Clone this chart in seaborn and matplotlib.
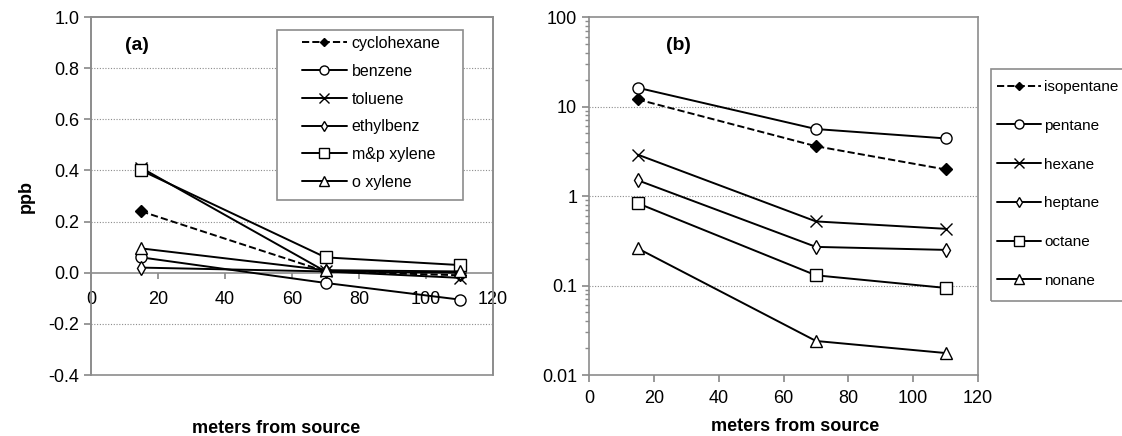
import numpy as np
import pandas as pd
import seaborn as sns
import matplotlib.pyplot as plt
from matplotlib.lines import Line2D
from matplotlib.patches import Rectangle
import matplotlib.ticker as mticker

# distances (m)
dist = [15, 70, 110]

# panel (a) aromatics + cyclohexane, ppb
names_a = ["cyclohexane", "benzene", "toluene", "ethylbenz", "m&p xylene", "o xylene"]
cyclohexane = [0.24, 0.005, -0.01]
benzene = [0.06, -0.04, -0.105]
toluene = [0.41, 0.005, -0.02]
ethylbenz = [0.02, 0.005, 0.0]
mp_xylene = [0.40, 0.06, 0.03]
o_xylene = [0.095, 0.01, 0.005]

# panel (b) alkanes, ppb (log scale)
names_b = ["isopentane", "pentane", "hexane", "heptane", "octane", "nonane"]
isopentane = [12.0, 3.6, 1.98]
pentane = [16.2, 5.6, 4.4]
hexane = [2.9, 0.52, 0.43]
heptane = [1.5, 0.27, 0.25]
octane = [0.83, 0.13, 0.094]
nonane = [0.26, 0.024, 0.0176]

vals_a = [cyclohexane, benzene, toluene, ethylbenz, mp_xylene, o_xylene]
vals_b = [isopentane, pentane, hexane, heptane, octane, nonane]

# marker style per series position (same order in both panels)
styles = [
    dict(marker="D", ls="--", mfc="black", ms=6),
    dict(marker="o", ls="-", mfc="white", ms=8),
    dict(marker="x", ls="-", mfc="none", ms=8),
    dict(marker="d", ls="-", mfc="white", ms=7),
    dict(marker="s", ls="-", mfc="white", ms=8),
    dict(marker="^", ls="-", mfc="white", ms=8),
]

sns.set_theme(style="white")
plt.rcParams["font.family"] = ["Liberation Sans", "DejaVu Sans"]
plt.rcParams["text.color"] = "black"
plt.rcParams["axes.labelcolor"] = "black"
plt.rcParams["xtick.color"] = "black"
plt.rcParams["ytick.color"] = "black"

fig = plt.figure(figsize=(11.22, 4.36), dpi=100)
ax1 = fig.add_axes([0.0811, 0.1399, 0.3583, 0.8211])
ax2 = fig.add_axes([0.5250, 0.1399, 0.3467, 0.8211])

gray = "#8c8c8c"


def draw(ax, names, vals):
    handles = []
    for name, v, st in zip(names, vals, styles):
        df = pd.DataFrame({"x": dist, "y": v})
        sns.lineplot(data=df, x="x", y="y", ax=ax, color="black", lw=1.4,
                     linestyle=st["ls"], marker=st["marker"], markersize=st["ms"],
                     markerfacecolor=st["mfc"], markeredgecolor="black",
                     markeredgewidth=1.0, zorder=3)
        handles.append(Line2D([], [], color="black", lw=1.4, linestyle=st["ls"],
                              marker=st["marker"], markersize=st["ms"] - 1.5,
                              markerfacecolor=st["mfc"], markeredgecolor="black",
                              label=name))
    return handles


# ---- panel (a)
h1 = draw(ax1, names_a, vals_a)
ax1.set_xlim(0, 120)
ax1.set_ylim(-0.4, 1.0)
ax1.set_yticks(np.arange(-0.4, 1.01, 0.2))
ax1.yaxis.set_major_formatter(mticker.FormatStrFormatter("%.1f"))
ax1.set_xticks(range(0, 121, 20))
for y in [-0.2, 0.2, 0.4, 0.6, 0.8]:
    ax1.axhline(y, color=gray, lw=0.8, ls=(0, (1, 1.5)), zorder=1)
ax1.spines["bottom"].set_position(("data", 0))
for s in ax1.spines.values():
    s.set_color(gray)
    s.set_linewidth(1.2)
ax1.add_patch(Rectangle((0, 0), 1, 1, transform=ax1.transAxes, fill=False,
                        edgecolor=gray, lw=1.2, zorder=0, clip_on=False))
ax1.tick_params(axis="x", direction="out", length=4, color=gray, pad=9,
                labelsize=13, bottom=True)
ax1.tick_params(axis="y", direction="out", length=5, color=gray, labelsize=13, left=True)
ax1.set_xlabel("")
ax1.set_ylabel("ppb", fontsize=13, fontweight="bold", labelpad=10)
fig.text(0.246, 0.018, "meters from source", ha="center", va="center",
         fontsize=13, fontweight="bold")
ax1.text(0.114, 0.92, "(a)", transform=ax1.transAxes, fontsize=14,
         fontweight="bold", ha="center", va="center")
# legend box drawn as a wide frame, like the spreadsheet original
ax1.add_patch(Rectangle((0.4627, 0.4888), 0.4623, 0.4749, transform=ax1.transAxes,
                        fill=True, facecolor="white", edgecolor=gray, lw=1.2, zorder=4))
leg1 = ax1.legend(handles=h1, loc="upper left", bbox_to_anchor=(0.525, 0.947),
                  fontsize=11.5, frameon=False, handlelength=2.8, labelspacing=0.8,
                  borderpad=0, handletextpad=0.3, borderaxespad=0)
leg1.set_zorder(5)

# ---- panel (b)
h2 = draw(ax2, names_b, vals_b)
ax2.set_yscale("log")
ax2.set_xlim(0, 120)
ax2.set_ylim(0.01, 100)
ax2.set_xticks(range(0, 121, 20))
ax2.set_yticks([0.01, 0.1, 1, 10, 100])
ax2.set_yticklabels(["0.01", "0.1", "1", "10", "100"])
ax2.yaxis.set_minor_locator(mticker.LogLocator(base=10, subs=np.arange(2, 10)))
ax2.yaxis.set_minor_formatter(mticker.NullFormatter())
for y in [0.1, 1, 10]:
    ax2.axhline(y, color=gray, lw=0.8, ls=(0, (1, 1.5)), zorder=1)
for s in ax2.spines.values():
    s.set_color(gray)
    s.set_linewidth(1.2)
ax2.tick_params(axis="x", direction="out", length=5, color=gray, labelsize=13,
                bottom=True, pad=6)
ax2.tick_params(axis="y", which="major", direction="out", length=5, color=gray,
                labelsize=13, left=True)
ax2.tick_params(axis="y", which="minor", direction="out", length=3, color=gray, left=True)
ax2.set_xlabel("meters from source", fontsize=13, fontweight="bold")
ax2.xaxis.set_label_coords(0.53, -0.12)
ax2.set_ylabel("")
ax2.text(0.229, 0.92, "(b)", transform=ax2.transAxes, fontsize=14,
         fontweight="bold", ha="center", va="center")
# legend frame runs past the right edge of the figure, as in the original
fig.add_artist(Rectangle((0.8832, 0.3096), 0.2, 0.5321, transform=fig.transFigure,
                         fill=False, edgecolor=gray, lw=1.2))
leg2 = fig.legend(handles=h2, loc="upper left", bbox_to_anchor=(0.8886, 0.8165),
                  fontsize=11, frameon=False, handlelength=2.9, labelspacing=1.62,
                  borderpad=0, handletextpad=0.2, borderaxespad=0)

fig.savefig("out.png", dpi=100, facecolor="white")
